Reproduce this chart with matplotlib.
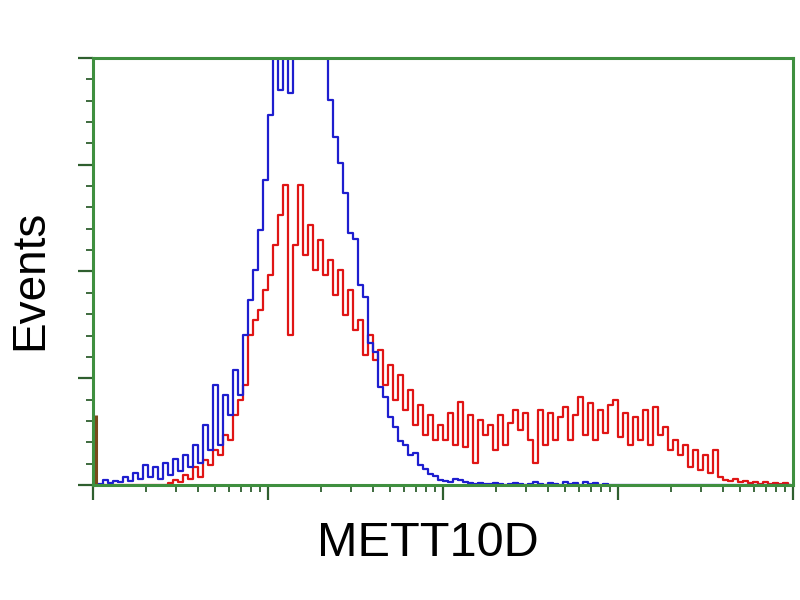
import numpy as np
import matplotlib
matplotlib.use("Agg")
import matplotlib.pyplot as plt
from matplotlib.ticker import LogLocator, NullFormatter, MultipleLocator

# histogram bins on a 4-decade log scale (140 channels)
edges = np.logspace(0, 4, 141)
centers = np.sqrt(edges[:-1] * edges[1:])

# control (blue) counts per channel
blue = [0, 1, 5, 2, 4, 3, 8, 4, 12, 6,
        20, 8, 18, 6, 22, 10, 26, 14, 30, 18,
        40, 22, 60, 35, 100, 40, 90, 70, 115, 90,
        150, 185, 215, 255, 305, 370, 440, 395, 430, 392,
        470, 500, 520, 510, 490, 470, 440, 385, 348, 322,
        292, 252, 246, 200, 188, 142, 133, 98, 88, 68,
        58, 44, 40, 30, 32, 20, 16, 11, 9, 5,
        4, 3, 6, 5, 3, 2, 1, 2, 1, 1,
        2, 1, 0, 1, 2, 1, 0, 1, 3, 1,
        0, 2, 1, 0, 3, 1, 2, 0, 3, 1,
        2, 0, 1, 0, 0, 0, 0, 0, 0, 0,
        0, 0, 0, 0, 0, 0, 0, 0, 0, 0,
        0, 0, 0, 0, 0, 0, 0, 0, 0, 0,
        0, 0, 0, 0, 0, 0, 0, 0, 0, 0]

# METT10D stained (red) counts per channel
red = [0, 0, 0, 0, 0, 0, 0, 0, 0, 0,
       0, 0, 0, 0, 0, 2, 5, 3, 10, 6,
       18, 8, 25, 20, 35, 30, 50, 45, 70, 85,
       100, 150, 165, 175, 195, 210, 240, 270, 300, 150,
       240, 300, 230, 260, 215, 245, 210, 225, 190, 215,
       170, 195, 155, 165, 130, 150, 125, 135, 100, 120,
       85, 110, 75, 95, 60, 80, 50, 70, 45, 60,
       45, 72, 40, 83, 38, 70, 22, 65, 50, 60,
       35, 70, 40, 62, 75, 55, 72, 45, 22, 75,
       40, 72, 45, 68, 78, 45, 70, 88, 50, 82,
       45, 75, 52, 80, 85, 48, 72, 40, 68, 45,
       75, 40, 78, 50, 58, 35, 45, 30, 40, 18,
       35, 15, 30, 12, 35, 8, 5, 4, 6, 3,
       4, 2, 3, 1, 3, 1, 2, 1, 2, 0]

# first-channel pile-up
spike = [70]

fig = plt.figure(figsize=(8, 6), dpi=100)
ax = fig.add_axes([0.11625, 0.19167, 0.875, 0.71167])

ax.plot(centers, red, drawstyle='steps-mid', color='#e01515', lw=1.6)
ax.plot(centers, blue, drawstyle='steps-mid', color='#1e1ecf', lw=1.6)
ax.vlines(centers[0], 0, spike[0], color='#7a4a1a', lw=2.2)

ax.set_xscale('log')
ax.set_xlim(1, 1e4)
ax.set_ylim(0, 427)

ax.xaxis.set_major_locator(LogLocator(base=10, numticks=10))
ax.xaxis.set_minor_locator(LogLocator(base=10, subs=np.arange(2, 10), numticks=100))
ax.xaxis.set_major_formatter(NullFormatter())
ax.xaxis.set_minor_formatter(NullFormatter())
ax.yaxis.set_major_locator(MultipleLocator(106.75))
ax.yaxis.set_minor_locator(MultipleLocator(21.35))
ax.yaxis.set_major_formatter(NullFormatter())

for s in ax.spines.values():
    s.set_color('#3f8f3f')
    s.set_linewidth(2.2)

ax.tick_params(axis='x', which='major', direction='out', length=11, width=1.6, color='#2f5f2f')
ax.tick_params(axis='x', which='minor', direction='out', length=5, width=1.3, color='#2f5f2f')
ax.tick_params(axis='y', which='major', direction='out', length=11, width=1.6, color='#2f5f2f')
ax.tick_params(axis='y', which='minor', direction='out', length=5, width=1.3, color='#2f5f2f')

fig.text(0.535, 0.095, 'METT10D', ha='center', va='center', fontsize=35,
         family='Liberation Sans')
fig.text(0.038, 0.533, 'Events', ha='center', va='center', fontsize=33,
         rotation=90, family='Liberation Sans')

fig.savefig('out.png', dpi=100)
